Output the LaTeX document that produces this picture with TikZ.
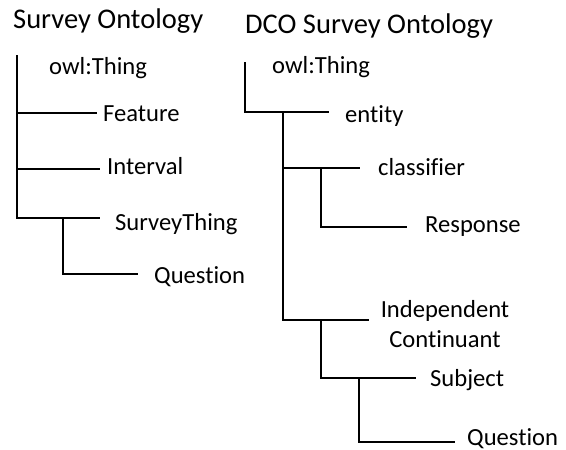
\documentclass[tikz,border=0pt]{standalone}
\usepackage{fontspec}
\setmainfont[Ligatures={NoCommon}]{Carlito}
\begin{document}
\begin{tikzpicture}[x=1pt,y=-1pt,
  conn/.style={line width=1.3pt,black},
  item/.style={anchor=base west,inner sep=0pt,font=\fontsize{24.6}{30}\selectfont},
  ttl/.style={anchor=base west,inner sep=0pt,font=\fontsize{28.5}{34}\selectfont}]
\useasboundingbox (0,0) rectangle (566,450);
% titles
\node[ttl] (t1) at (13,28) {Survey Ontology};
\node[ttl] (t2) at (245,33) {DCO Survey Ontology};
% left tree
\node[item] (lthing) at (49,74) {owl:Thing};
\node[item] (lfeat) at (103,121) {Feature};
\node[item] (lint) at (107,174) {Interval};
\node[item] (lsurv) at (115,230) {SurveyThing};
\node[item] (lques) at (154,283) {Question};
\coordinate (l0) at (17,55);
\coordinate (lf) at (97,113);
\coordinate (li) at (100,169);
\coordinate (ls) at (100,218);
\coordinate (ls2) at (63,218);
\coordinate (lq) at (138,274);
\draw[conn] (l0) |- (lf);
\draw[conn] (l0) |- (li);
\draw[conn] (l0) |- (ls);
\draw[conn] (ls2) |- (lq);
% right tree
\node[item] (rthing) at (272,73) {owl:Thing};
\node[item] (rent) at (345,122) {entity};
\node[item] (rcls) at (378,175) {classifier};
\node[item] (rresp) at (425,232) {Response};
\node[item,anchor=base,align=center] (rind) at (445,347) {Independent\\Continuant};
\node[item] (rsub) at (430,386) {Subject};
\node[item] (rques) at (467,445.5) {Question};
\coordinate (r0) at (245,62);
\coordinate (re) at (329,112);
\coordinate (r1) at (283,112);
\coordinate (rc) at (360,168);
\coordinate (ric) at (369,320);
\coordinate (r2) at (321,168);
\coordinate (rr) at (407,227);
\coordinate (r3) at (321,320);
\coordinate (rs) at (416,378);
\coordinate (r4) at (359,378);
\coordinate (rq) at (455,442);
\draw[conn] (r0) |- (re);
\draw[conn] (r1) |- (rc);
\draw[conn] (r1) |- (ric);
\draw[conn] (r2) |- (rr);
\draw[conn] (r3) |- (rs);
\draw[conn] (r4) |- (rq);
\end{tikzpicture}
\end{document}
